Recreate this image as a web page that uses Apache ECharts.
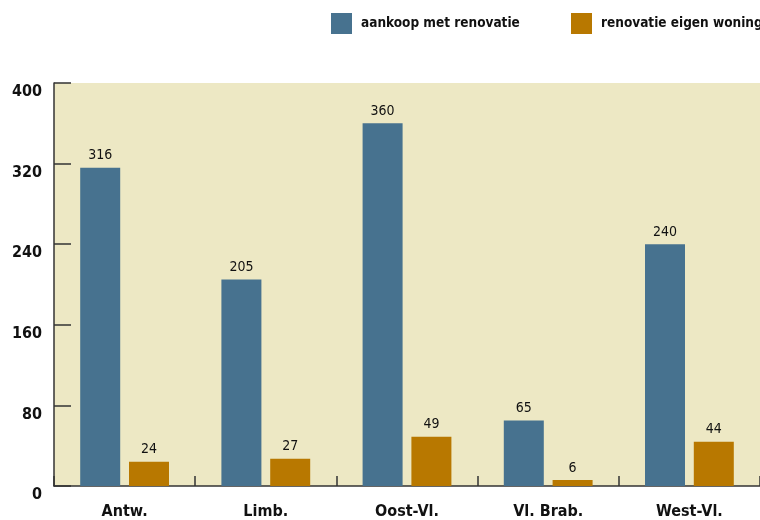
<!DOCTYPE html>
<html>
<head>
<meta charset="utf-8">
<script src="https://cdn.jsdelivr.net/npm/echarts@6/dist/echarts.min.js"></script>
<style>
  html, body { margin: 0; padding: 0; background: #ffffff; }
  #chart { width: 760px; height: 520px; }
</style>
</head>
<body>
<div id="chart"></div>
<script>
// Provinces and counts per type of purchase
const provinces = ['Antw.', 'Limb.', 'Oost-Vl.', 'Vl. Brab.', 'West-Vl.'];
const aankoopMetRenovatie = [316, 205, 360, 65, 240];
const renovatieEigenWoning = [24, 27, 49, 6, 44];
const seriesNames = ['aankoop met renovatie', 'renovatie eigen woning'];
const yTicks = [0, 80, 160, 240, 320, 400];

const FONT = '"DejaVu Sans Condensed", "DejaVu Sans", sans-serif';
const BLUE = '#47728f';
const ORANGE = '#b87800';

const chart = echarts.init(document.getElementById('chart'), null, { renderer: 'canvas' });

const labelStyle = {
  show: true,
  position: 'top',
  distance: 5,
  color: '#111',
  fontFamily: FONT,
  fontSize: 14
};

const legendText = { fontFamily: FONT, fontWeight: 'bold', fontSize: 13.5, color: '#111', padding: [0, 0, 0, 4] };

chart.setOption({
  animation: false,
  textStyle: { fontFamily: FONT },
  legend: [
    {
      data: [seriesNames[0]],
      left: 326, top: 8,
      itemWidth: 21, itemHeight: 21, icon: 'rect',
      textStyle: legendText
    },
    {
      data: [seriesNames[1]],
      left: 566, top: 8,
      itemWidth: 21, itemHeight: 21, icon: 'rect',
      textStyle: legendText
    }
  ],
  grid: {
    left: 54, top: 83, width: 712, height: 403,
    show: true, backgroundColor: '#ede8c4', borderWidth: 0
  },
  xAxis: {
    type: 'category',
    data: provinces,
    axisLine: { show: true, lineStyle: { color: '#333', width: 1.5 } },
    axisTick: { show: true, inside: true, length: 10, lineStyle: { color: '#333', width: 1.5 } },
    axisLabel: { color: '#111', fontFamily: FONT, fontWeight: 'bold', fontSize: 16, margin: 18 },
    splitLine: { show: false }
  },
  yAxis: {
    type: 'value',
    min: yTicks[0],
    max: yTicks[yTicks.length - 1],
    interval: yTicks[1] - yTicks[0],
    axisLine: { show: true, lineStyle: { color: '#333', width: 1.5 } },
    axisTick: { show: true, inside: true, length: 17, lineStyle: { color: '#333', width: 1.5 } },
    axisLabel: { color: '#111', fontFamily: FONT, fontWeight: 'bold', fontSize: 16, margin: 12, verticalAlign: 'top', padding: [1, 0, 0, 0] },
    splitLine: { show: false }
  },
  series: [
    {
      name: seriesNames[0],
      type: 'bar',
      data: aankoopMetRenovatie,
      itemStyle: { color: BLUE },
      barWidth: 40,
      barGap: '22%',
      label: labelStyle
    },
    {
      name: seriesNames[1],
      type: 'bar',
      data: renovatieEigenWoning,
      itemStyle: { color: ORANGE },
      barWidth: 40,
      barGap: '22%',
      label: labelStyle
    }
  ]
});
</script>
</body>
</html>
